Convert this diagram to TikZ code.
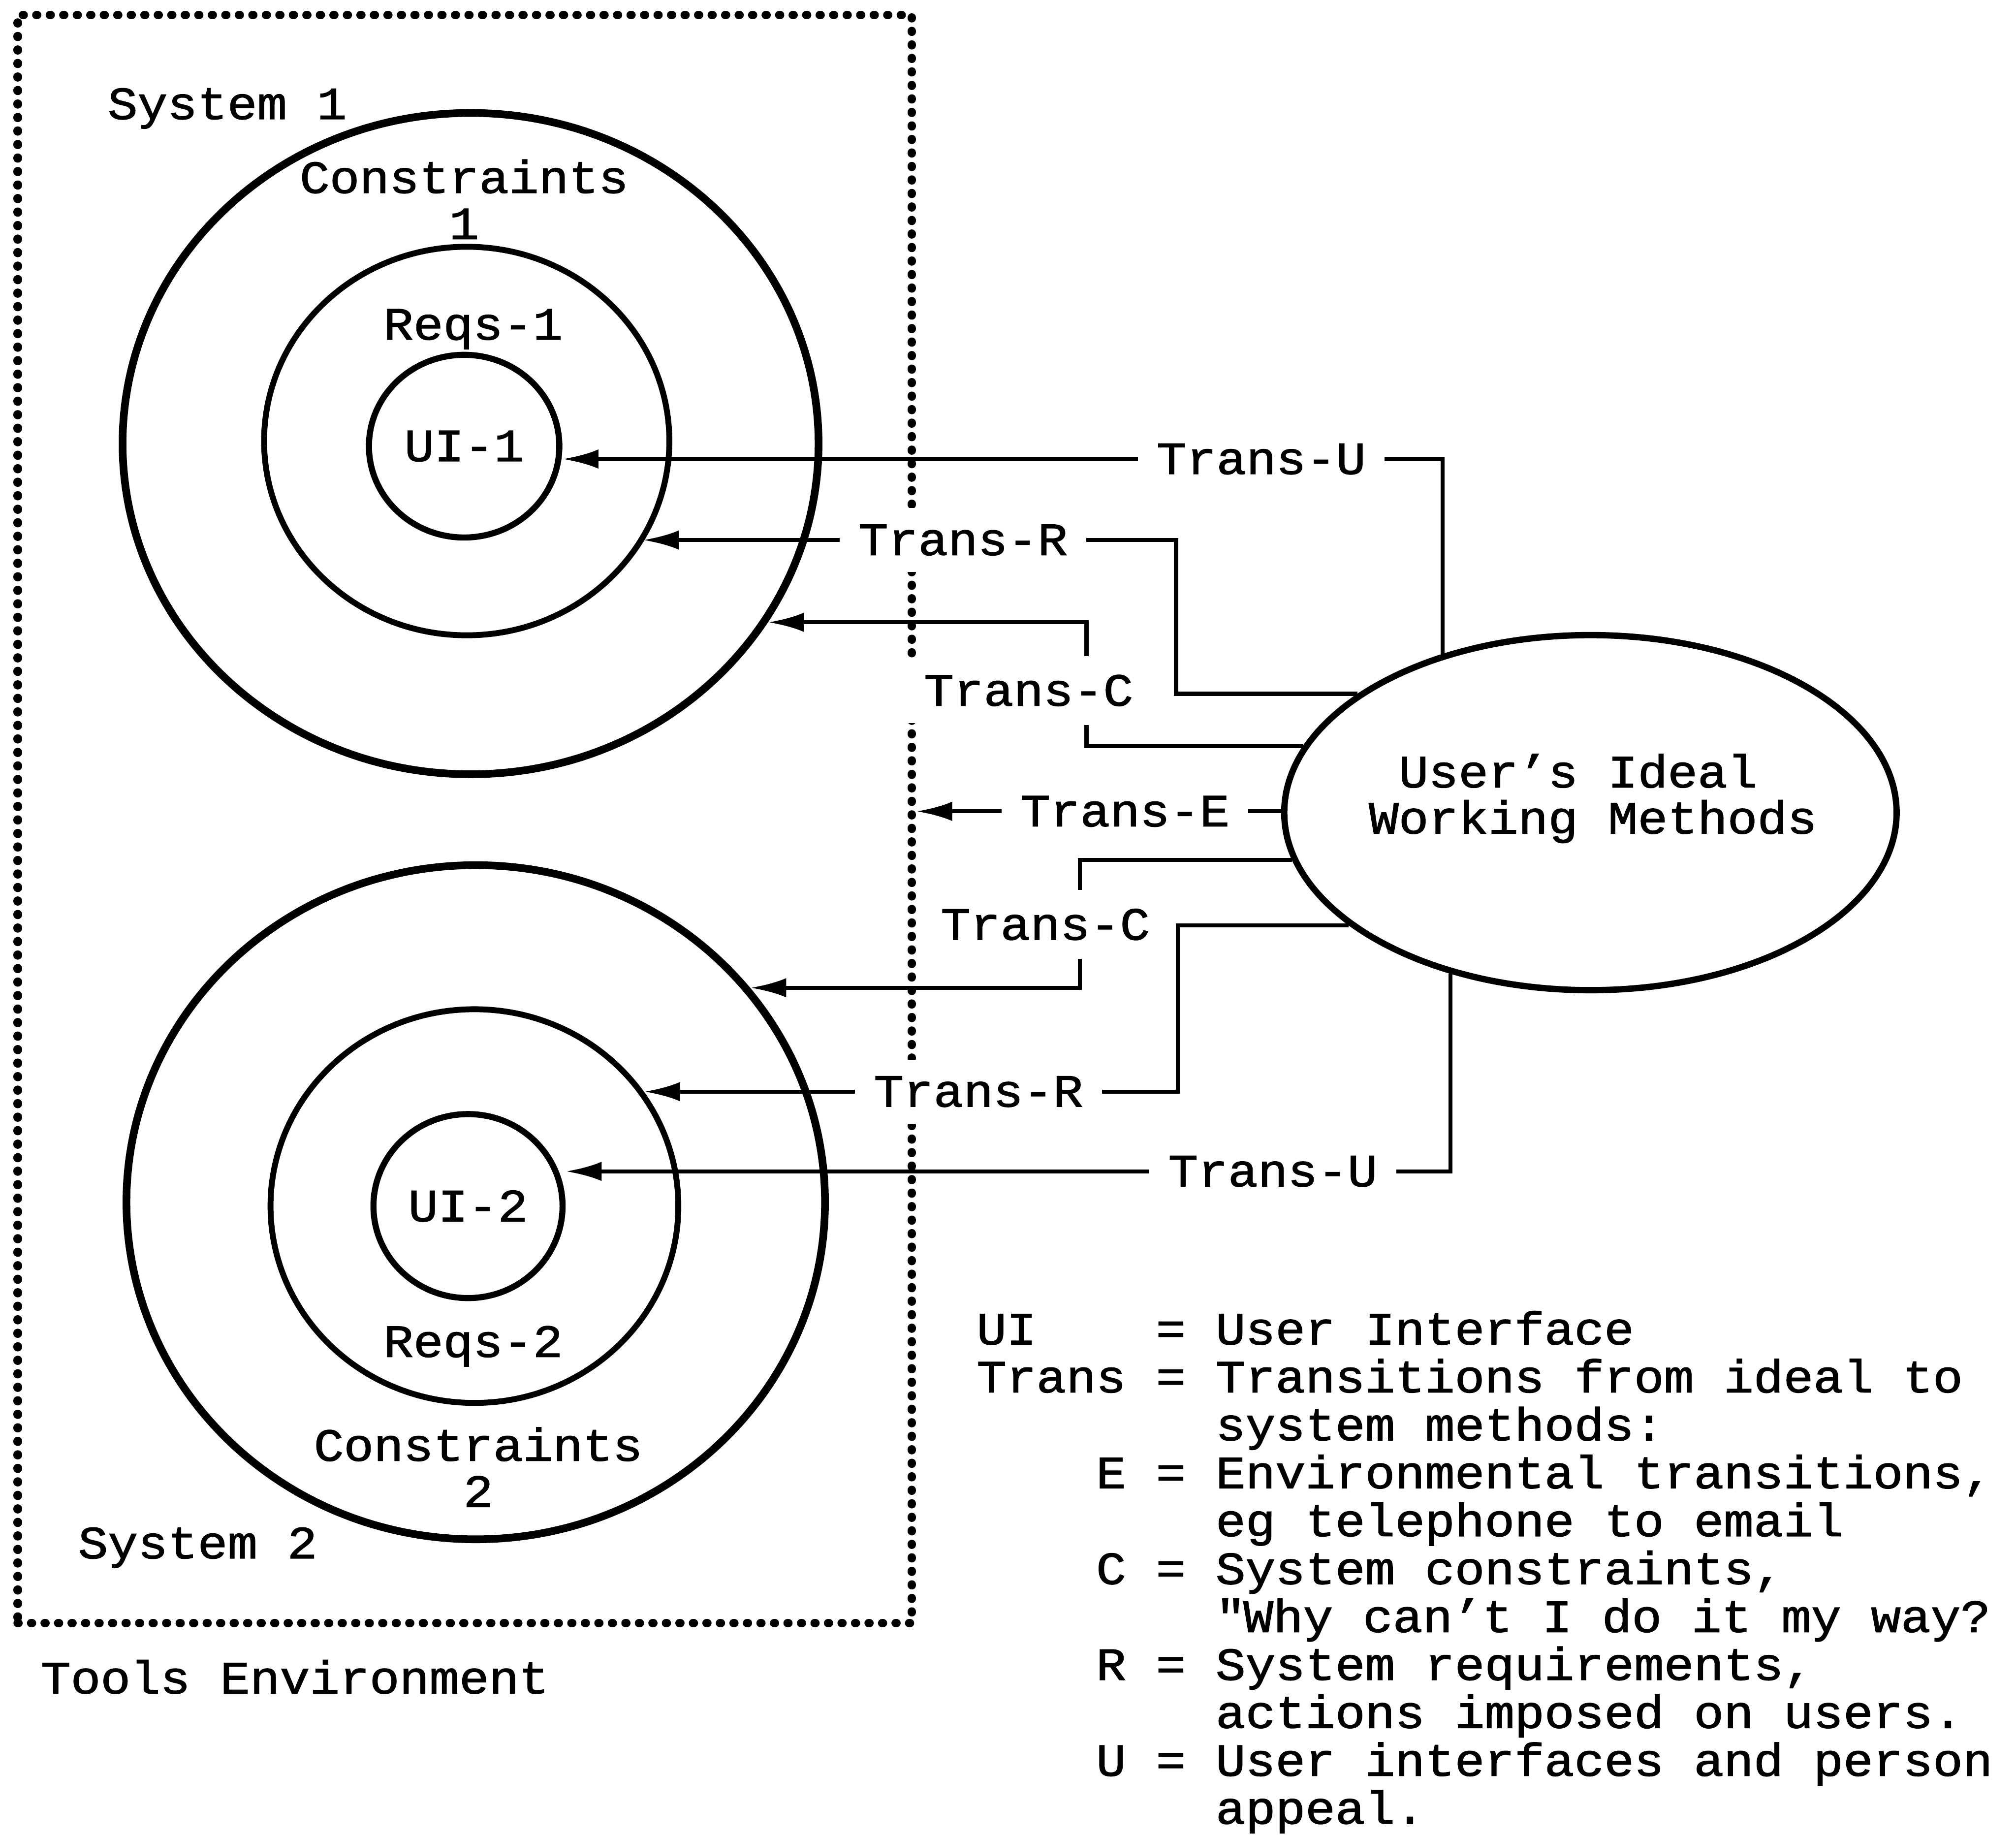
\documentclass[tikz,border=0pt]{standalone}
\usepackage{fontspec}
\setmainfont{Liberation Mono}[FakeStretch=1.08,FakeBold=1.5]
\usetikzlibrary{positioning,shapes,arrows.meta}

\begin{document}
\frenchspacing
\begin{tikzpicture}[x=0.01cm,y=-0.01cm,line width=0.9pt,
        font=\fontsize{10.2}{10.2}\selectfont,
        >={Latex[length=2.8mm,width=1.5mm]},
        ring/.style={shape=ellipse,draw=black,inner sep=0pt},
        lbl/.style={fill=white,inner sep=1.3mm},
        dotbox/.style={draw=black,line width=1.9pt,line cap=round,dash pattern=on 0.05mm off 1.0mm}]
                \useasboundingbox (0,0) rectangle (1568,1427);
                % tools environment
                \node[dotbox,minimum width=6.95cm,minimum height=12.5cm] (toolbox) at (361.5,637) {};
                \node[below right=0.47cm and 0.6cm of toolbox.north west] (sys1) {System 1};
                \node[above right=0.33cm and 0.37cm of toolbox.south west] (sys2) {System 2};
                \node[below right=0.12cm and 0.08cm of toolbox.south west] (toolsenv) {Tools Environment};
                % system 1
                \node[ring,line width=1.7pt,minimum width=5.41cm,minimum height=5.14cm] (con1) at (366,345) {};
                \node[ring,line width=1.3pt,minimum width=3.15cm,minimum height=3.02cm] (req1) at (363,343) {};
                \node[ring,line width=1.35pt,minimum width=1.48cm,minimum height=1.42cm] (ui1) at (361,347) {UI-1};
                \node[align=center] (c1txt) at (361,155) {Constraints\\1};
                \node (r1txt) at (368,256) {Reqs-1};
                % system 2
                \node[ring,line width=1.7pt,minimum width=5.43cm,minimum height=5.24cm] (con2) at (370,935) {};
                \node[ring,line width=1.3pt,minimum width=3.17cm,minimum height=3.06cm] (req2) at (369,938) {};
                \node[ring,line width=1.35pt,minimum width=1.47cm,minimum height=1.43cm] (ui2) at (364,938) {UI-2};
                \node (r2txt) at (368,1047) {Reqs-2};
                \node[align=center] (c2txt) at (372,1141) {Constraints\\2};
                % the user's side
                \node[ring,line width=1.4pt,minimum width=4.76cm,minimum height=2.76cm] (uwm) at (1237,632) {};
                \node[align=left] (uwmtxt) at (1239,621) {\hphantom{W}User's Ideal\\Working Methods};
                % transitions
                \node[lbl] (tu1) at (981,357) {Trans-U};
                \node[lbl] (tr1) at (749,420) {Trans-R};
                \node[lbl] (tc1) at (800,537) {Trans-C};
                \node[lbl] (te) at (875,631) {Trans-E};
                \node[lbl] (tc2) at (813,719) {Trans-C};
                \node[lbl] (tr2) at (761,849) {Trans-R};
                \node[lbl] (tu2) at (990,911) {Trans-U};
                \draw (tu1.east) -| (uwm.133);
                \draw[->] (tu1.west) -- (tu1.west -| ui1.east);
                \draw (uwm.153) -- ++(-141,0) |- (tr1.east);
                \draw[->] (tr1.west) -- (tr1.west -| req1.-30);
                \draw (uwm.167) -| ([xshift=4.5mm]tc1.south);
                \draw[->] ([xshift=4.5mm]tc1.north) |- (con1.-31);
                \draw (te.east) -- (te.east -| uwm.west);
                \draw[->] (te.west) -- (te.west -| toolbox.east);
                \draw (uwm.189) -| ([xshift=2.7mm]tc2.north);
                \draw[->] ([xshift=2.7mm]tc2.south) |- (con2.38);
                \draw (uwm.205) -- ++(-133,0) |- (tr2.east);
                \draw[->] (tr2.west) -- (tr2.west -| req2.34);
                \draw (tu2.east) -| (uwm.229);
                \draw[->] (tu2.west) -- (tu2.west -| ui2.east);
                % key
                \node[anchor=north west,inner sep=0pt,align=left,font=\fontsize{10.2}{10.6}\selectfont] (key) at (758,1018) {%
                    UI~~~~= User Interface\\
                    Trans = Transitions from ideal to\\
                    \hphantom{Trans = }system methods:\\
                    \hphantom{Tran}E = Environmental transitions,\\
                    \hphantom{Trans = }eg telephone to email\\
                    \hphantom{Tran}C = System constraints,\\
                    \hphantom{Trans = }\textquotedbl Why can't I do it my way?\\
                    \hphantom{Tran}R = System requirements,\\
                    \hphantom{Trans = }actions imposed on users.\\
                    \hphantom{Tran}U = User interfaces and person\\
                    \hphantom{Trans = }appeal.};
            \end{tikzpicture}
\end{document}
